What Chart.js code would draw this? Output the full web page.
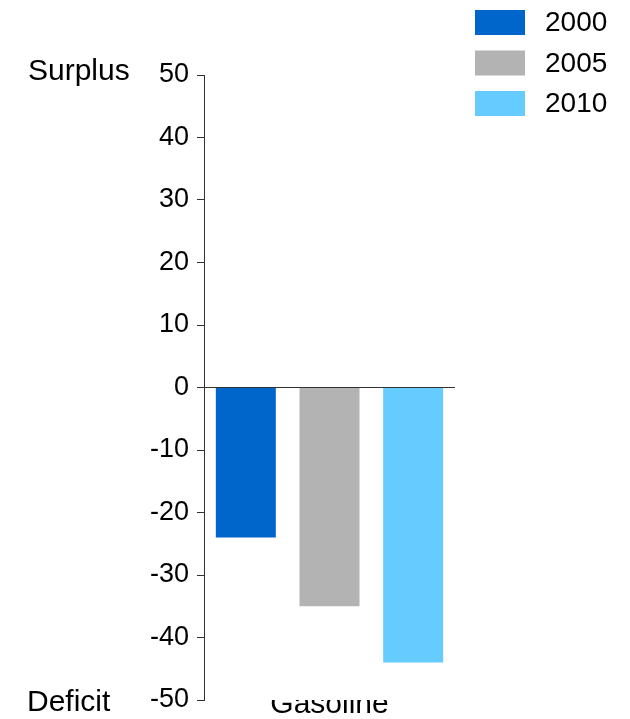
<!DOCTYPE html>
<html>
<head>
<meta charset="utf-8">
<title>Gasoline balance</title>
<script src="https://cdn.jsdelivr.net/npm/chart.js@4.4.0/dist/chart.umd.min.js"></script>
<style>
    html, body { margin: 0; padding: 0; background: #fff; }
    #wrap { position: relative; width: 630px; height: 719px; }
</style>
</head>
<body>
<div id="wrap"><canvas id="balance-chart"></canvas></div>
<script>
// Surplus / deficit by year
const categories = ['Gasoline'];
const years = ['2000', '2005', '2010'];
const values2000 = [-24];
const values2005 = [-35];
const values2010 = [-44];
const yTicks = [50, 40, 30, 20, 10, 0, -10, -20, -30, -40, -50];

const colors = ['#0066CC', '#B3B3B3', '#66CCFF'];
const axisColor = '#333333';
const fontFamily = '"Liberation Sans", Arial, sans-serif';

// Legend in the top right corner, plus the Surplus / Deficit captions
const sideTextPlugin = {
    id: 'sideText',
    afterDraw(chart) {
        const ctx = chart.ctx;
        ctx.save();
        ctx.textBaseline = 'middle';
        ctx.textAlign = 'left';
        ctx.fillStyle = '#000';

        ctx.font = '28px ' + fontFamily;
        chart.data.datasets.forEach((ds, i) => {
            const cy = 22.5 + i * 40.5;
            ctx.fillStyle = ds.backgroundColor;
            ctx.fillRect(475, cy - 12.5, 50, 25);
            ctx.fillStyle = '#000';
            ctx.fillText(ds.label, 545, cy + 1);
        });

        const yScale = chart.scales.y;
        ctx.font = '30px ' + fontFamily;
        ctx.fillText('Surplus', 28, yScale.getPixelForValue(yTicks[0]) - 3);
        ctx.fillText('Deficit', 27, yScale.getPixelForValue(yTicks[yTicks.length - 1]) + 3);
        ctx.restore();
    }
};

const chart = new Chart(document.getElementById('balance-chart'), {
    type: 'bar',
    data: {
        labels: categories,
        datasets: [
            { label: years[0], data: values2000, backgroundColor: colors[0] },
            { label: years[1], data: values2005, backgroundColor: colors[1] },
            { label: years[2], data: values2010, backgroundColor: colors[2] },
        ]
    },
    options: {
        responsive: true,
        maintainAspectRatio: false,
        animation: false,
        datasets: {
            bar: {
                barPercentage: 0.717,
                categoryPercentage: 1.0,
            }
        },
        layout: {
            padding: { left: 0, right: 175, top: 75, bottom: 0 }
        },
        plugins: {
            legend: { display: false },
            tooltip: { enabled: false },
        },
        scales: {
            x: {
                grid: { display: false },
                border: { display: false },
                ticks: {
                    color: '#000',
                    padding: -21,
                    font: { family: fontFamily, size: 30 },
                },
                afterFit(scale) {
                    scale.height = 19;
                }
            },
            y: {
                min: -50,
                max: 50,
                afterBuildTicks(scale) {
                    scale.ticks = yTicks.map(v => ({ value: v }));
                },
                afterFit(scale) {
                    scale.width = 204;
                },
                border: { display: true, color: axisColor, width: 1 },
                grid: {
                    drawOnChartArea: true,
                    drawTicks: true,
                    tickLength: 7,
                    tickColor: axisColor,
                    color: (c) => (c.tick && c.tick.value === 0 ? axisColor : 'transparent'),
                },
                ticks: {
                    color: '#000',
                    padding: 8,
                    font: { family: fontFamily, size: 27, lineHeight: 0.2 },
                }
            }
        }
    },
    plugins: [sideTextPlugin]
});
</script>
</body>
</html>
